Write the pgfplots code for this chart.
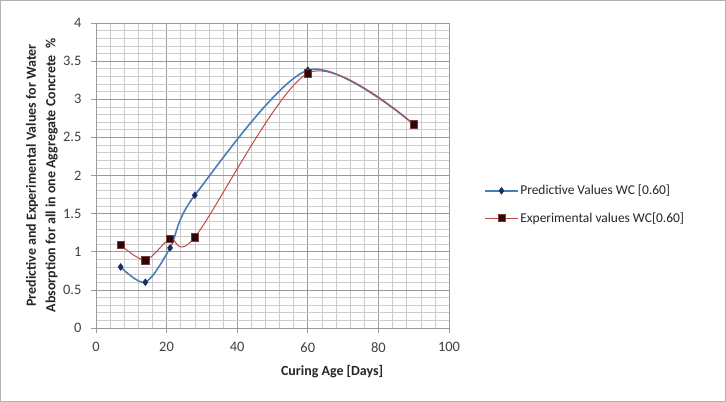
\documentclass[border=0pt]{standalone}
\usepackage{fontspec}
\setmainfont{Carlito}
\usepackage{pgfplots}
\pgfplotsset{compat=1.18}

\definecolor{predline}{HTML}{4A7EBB}
\definecolor{predmark}{HTML}{1C2D5C}
\definecolor{expline}{HTML}{BE4B48}
\definecolor{expmark}{HTML}{2A0808}
\definecolor{majorgrid}{HTML}{9A9A9A}
\definecolor{minorgrid}{HTML}{CDCDCD}
\definecolor{ticktext}{HTML}{404040}

\begin{document}
\begin{tikzpicture}
% chart frame
\draw[draw=black!30, fill=white, line width=0.8bp] (0.5bp,0.5bp) rectangle (725.5bp,401.5bp);
\begin{axis}[
  at={(96bp,74bp)}, anchor=south west,
  scale only axis, width=353bp, height=305bp,
  xmin=0, xmax=100, ymin=0, ymax=4,
  xtick={0,20,...,100}, ytick={0,0.5,...,4},
  minor x tick num=4, minor y tick num=4,
  grid=both,
  major grid style={majorgrid, line width=0.6bp},
  minor grid style={minorgrid, line width=0.5bp},
  axis line style={majorgrid, line width=0.7bp},
  tick style={majorgrid, line width=0.6bp},
  xtick pos=bottom, ytick pos=left,
  tick align=outside, major tick length=5bp, minor tick length=0pt,
  /pgf/number format/assume math mode=true,
  ticklabel style={font=\fontsize{14.5}{16}\selectfont, text=ticktext},
  xticklabel style={yshift=-6bp},
  yticklabel style={xshift=-6bp},
  xlabel={\bfseries Curing Age [Days]},
  ylabel={\bfseries Predictive and Experimental Values for Water\\ \bfseries Absorption for all in one Aggregate Concrete\ \ \%},
  xlabel style={at={(axis description cs:0.669,-0.143)}, anchor=center, font=\fontsize{14}{16}\selectfont, text=black!85},
  ylabel style={at={(axis description cs:-0.153,0.5)}, anchor=center, rotate=0, align=center, font=\fontsize{14}{19.5}\selectfont, text=black!85},
  legend style={at={(axis description cs:1.092,0.405)}, anchor=west, draw=none, fill=none,
    font=\fontsize{13.5}{15}\selectfont, row sep=12bp, text=black!85},
  legend cell align=left,
  legend image code/.code={\draw[mark repeat=2, mark phase=2] plot coordinates {(0bp,0bp) (16bp,0bp) (32bp,0bp)};},
]
\addplot[smooth, predline, line width=1.6bp, mark=diamond*, mark size=3.4bp,
  mark options={solid, fill=predmark, draw=predmark, line width=0.5bp}]
  coordinates {(7,0.80) (14,0.60) (21,1.05) (28,1.74) (60,3.38) (90,2.67)};
\addlegendentry{Predictive Values WC [0.60]}
\addplot[smooth, expline, line width=1.0bp, mark=square*, mark size=3.7bp,
  mark options={solid, fill=expmark, draw=expline!70!black, line width=0.6bp}]
  coordinates {(7,1.09) (14,0.89) (21,1.17) (28,1.19) (60,3.34) (90,2.67)};
\addlegendentry{Experimental values WC[0.60]}
\end{axis}
\end{tikzpicture}
\end{document}
